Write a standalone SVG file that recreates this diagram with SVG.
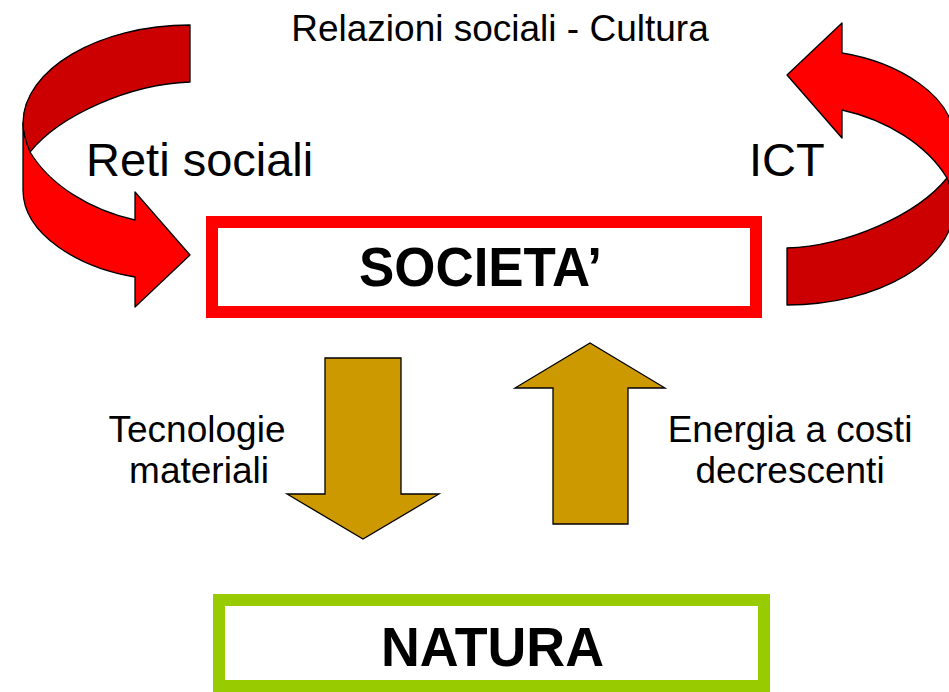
<svg xmlns="http://www.w3.org/2000/svg" width="949" height="692" viewBox="0 0 949 692">
<style>
.lbl{font-family:"Liberation Sans",Arial,sans-serif;fill:#000}
.big{font-family:"Liberation Sans",Arial,sans-serif;font-weight:bold;fill:#000}
.dark{fill:#CC0000;stroke:#000;stroke-width:1.3;stroke-linejoin:round}
.bright{fill:#FF0000;stroke:#000;stroke-width:1.3;stroke-linejoin:round}
.gold{fill:#CC9900;stroke:#000;stroke-width:1.3;stroke-linejoin:miter}
</style>
<defs>
<g id="curl">
<path class="dark" d="M190,25 L190,82 C130,84 60,115 30,152 C26,143 23,133 23,123 C23,70 98,25 190,25 Z"/>
<path class="bright" d="M23,123 C23,133 26,143 30,152 C50,185 90,210 135,220 L135,192 L190,255 L135,307 L135,277 C80,268 23,235 23,190 Z"/>
</g>
</defs>
<rect width="949" height="692" fill="#fff"/>
<g id="connectors">
<use id="arrow-reti-sociali" href="#curl"/>
<use id="arrow-ict" href="#curl" transform="rotate(180 488.5 165)"/>
<path id="arrow-tecnologie" class="gold" d="M325,358 L401,358 L401,494 L439,494 L363,539 L287,494 L325,494 Z"/>
<path id="arrow-energia" class="gold" d="M553,524 L628,524 L628,388 L665,388 L590,343 L515,388 L553,388 Z"/>
</g>
<g id="labels">
<text class="lbl" x="500" y="41" font-size="37" text-anchor="middle">Relazioni sociali - Cultura</text>
<text class="lbl" x="86" y="176" font-size="47">Reti sociali</text>
<text class="lbl" x="749" y="176" font-size="47">ICT</text>
<text class="lbl" x="197" y="442" font-size="37" text-anchor="middle">Tecnologie</text>
<text class="lbl" x="199" y="483" font-size="37" text-anchor="middle">materiali</text>
<text class="lbl" x="790" y="442" font-size="37" text-anchor="middle">Energia a costi</text>
<text class="lbl" x="790" y="483" font-size="37" text-anchor="middle">decrescenti</text>
</g>
<g id="societa">
<rect x="212" y="222" width="544" height="90" fill="#fff" stroke="#FF0000" stroke-width="12"/>
<text class="big" x="359" y="286" font-size="56" textLength="243" lengthAdjust="spacingAndGlyphs">SOCIETA’</text>
</g>
<g id="natura">
<rect x="219" y="600" width="545" height="86" fill="#fff" stroke="#99CC00" stroke-width="12"/>
<text class="big" x="381" y="666" font-size="55" textLength="223" lengthAdjust="spacingAndGlyphs">NATURA</text>
</g>
</svg>
